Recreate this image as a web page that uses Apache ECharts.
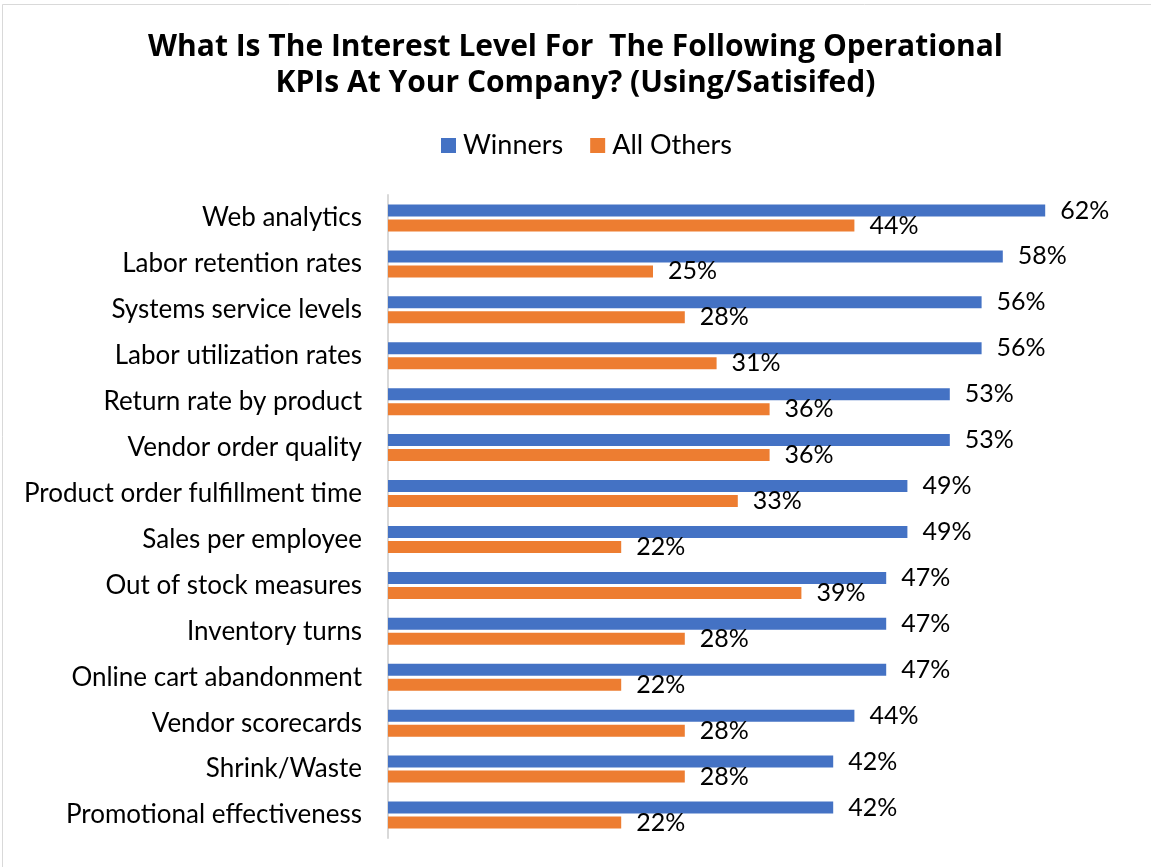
<!DOCTYPE html>
<html>
<head>
<meta charset="utf-8">
<script src="https://cdn.jsdelivr.net/npm/echarts@6/dist/echarts.min.js"></script>
<style>html,body{margin:0;padding:0;background:#fff;}#c{width:1151px;height:867px;}</style>
</head>
<body>
<div id="c"></div>
<script>
const categories = ["Web analytics","Labor retention rates","Systems service levels","Labor utilization rates","Return rate by product","Vendor order quality","Product order fulfillment time","Sales per employee","Out of stock measures","Inventory turns","Online cart abandonment","Vendor scorecards","Shrink/Waste","Promotional effectiveness"];
const winners = [62,58,56,56,53,53,49,49,47,47,47,44,42,42];
const allOthers = [44,25,28,31,36,36,33,22,39,28,22,28,28,22];
const seriesNames = ["Winners","All Others"];

const chart = echarts.init(document.getElementById('c'), null, {renderer:'canvas'});
const FONT = 'Lato';
chart.setOption({
  backgroundColor:'#fff',
  animation:false,
  graphic:[{type:'rect',shape:{x:2.5,y:4.5,width:1200,height:900},style:{fill:'none',stroke:'#d9d9d9',lineWidth:1},silent:true}],
  title:{
    text:'What Is The Interest Level For  The Following Operational\nKPIs At Your Company? (Using/Satisifed)',
    left:'center', top:24,
    textStyle:{fontFamily:'Open Sans',fontWeight:'bold',fontSize:30,color:'#000',lineHeight:36}
  },
  legend:{
    data:seriesNames, top:127, left:436,
    itemWidth:15,itemHeight:15,itemGap:27,
    icon:'rect',
    textStyle:{fontFamily:FONT,fontSize:27,color:'#000',padding:[0,0,0,2]}
  },
  grid:{left:388,right:21,top:195,bottom:29,containLabel:false},
  xAxis:{type:'value',min:0,max:70,show:false},
  yAxis:{
    type:'category',data:categories,inverse:true,
    axisLine:{show:true,lineStyle:{color:'#d9d9d9',width:2}},
    axisTick:{show:false},
    axisLabel:{fontFamily:FONT,fontSize:26,color:'#000',margin:26}
  },
  series:[
    {name:seriesNames[0],type:'bar',data:winners,barWidth:12,barGap:'25%',
     itemStyle:{color:'#4472c4'},
     label:{show:true,position:'right',distance:15,formatter:'{c}%',fontFamily:FONT,fontSize:25,color:'#000'}},
    {name:seriesNames[1],type:'bar',data:allOthers,barWidth:12,barGap:'25%',
     itemStyle:{color:'#ed7d31'},
     label:{show:true,position:'right',distance:15,formatter:'{c}%',fontFamily:FONT,fontSize:25,color:'#000'}}
  ]
});
</script>
</body>
</html>
